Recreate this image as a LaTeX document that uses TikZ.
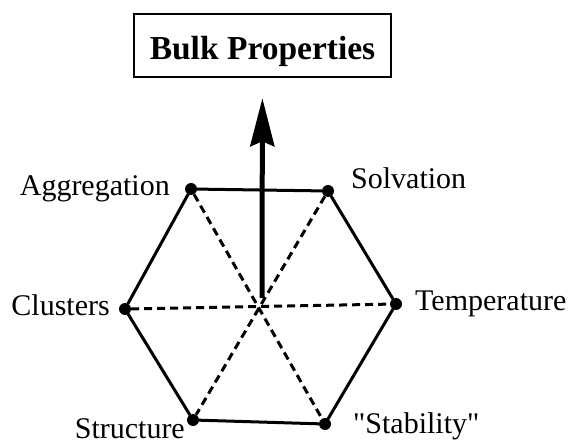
\documentclass[tikz,border=0pt]{standalone}
\usepackage{fontspec}
\setmainfont{Liberation Serif}
\usetikzlibrary{arrows.meta,positioning}
\tikzset{
	titlebox/.style={rectangle, draw, line width=2.5pt, minimum width=257pt, text height=29pt, text depth=0pt, inner ysep=17pt, font=\fontsize{33.5pt}{40pt}\selectfont\bfseries, align=center},
	vertex/.style={circle, fill=black, inner sep=0pt, minimum size=12pt},
	lbl/.style={inner sep=0pt, font=\fontsize{30pt}{36pt}\selectfont},
	rim/.style={line width=3pt, line cap=round},
	spoke/.style={line width=3pt, dash pattern=on 8pt off 5pt},
	bigarrow/.style={line width=5pt, -{Stealth[length=48pt, width=24pt, inset=5pt]}, shorten >=20pt}
}
\begin{document}
\begin{tikzpicture}[x=1pt, y=-1pt]
	\useasboundingbox (0,0) rectangle (575,443);

	% --- Nodes ---
	\node[titlebox] (bulk) at (262.5,45.5) {Bulk Properties};

	\coordinate (ctr) at (262,298);
	\node[vertex] (agg) at (191,189) {};
	\node[vertex] (solv) at (328,191) {};
	\node[vertex] (temp) at (396,304) {};
	\node[vertex] (stab) at (325,424) {};
	\node[vertex] (struc) at (193,420) {};
	\node[vertex] (clus) at (125,309) {};

	\node[lbl, anchor=base east] (aggL) at (170,196) {Aggregation};
	\node[lbl, anchor=base west] (solvL) at (351,189) {Solvation};
	\node[lbl, anchor=base west] (tempL) at (415,310) {Temperature};
	\node[lbl, anchor=base west] (stabL) at (353,433) {\textquotedbl Stability\textquotedbl};
	\node[lbl, anchor=base east] (strucL) at (185,438) {Structure};
	\node[lbl, anchor=base east] (clusL) at (110,316) {Clusters};

	% --- Connections ---
	\draw[spoke] (agg) -- (stab);
	\draw[spoke] (solv) -- (struc);
	\draw[spoke] (clus) -- (temp);
	\draw[rim] (agg) -- (solv) -- (temp) -- (stab) -- (struc) -- (clus) -- (agg);
	\draw[bigarrow] (ctr) -- (bulk);

\end{tikzpicture}
\end{document}
